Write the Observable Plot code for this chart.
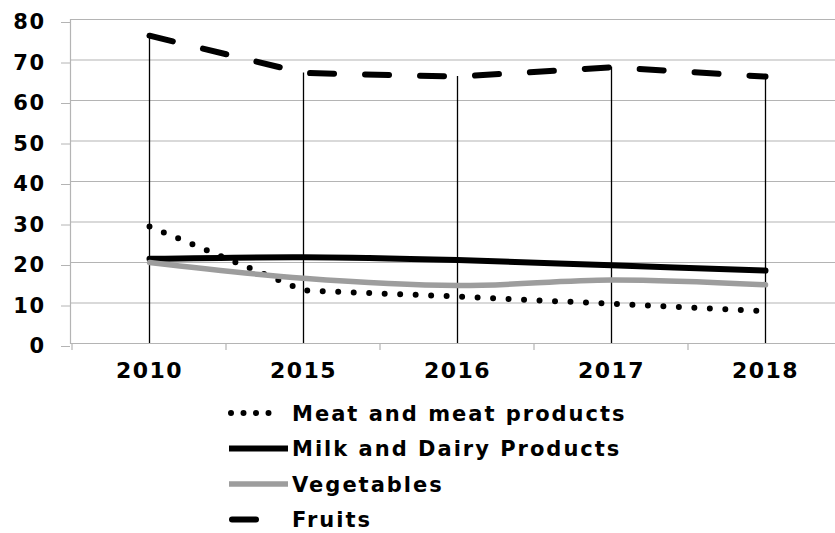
<!DOCTYPE html>
<html><head><meta charset="utf-8">
<script src="https://cdn.jsdelivr.net/npm/d3@7"></script>
<script src="https://cdn.jsdelivr.net/npm/@observablehq/plot@0.6"></script>
<style>
html,body{margin:0;padding:0;background:#fff;overflow:hidden;}
#chart svg{display:block;}
#chart text{letter-spacing:1.5px;}
</style></head><body><div id="chart"></div>
<script>
const years = ["2010", "2015", "2016", "2017", "2018"];
const meat = [28.9, 13.1, 11.6, 9.8, 8.0];
const milk = [20.9, 21.3, 20.6, 19.3, 18.0];
const vegetables = [20.0, 16.1, 14.3, 15.7, 14.5];
const fruits = [76.0, 66.8, 65.9, 68.2, 65.9];
const seriesNames = ["Meat and meat products", "Milk and Dairy Products", "Vegetables", "Fruits"];
const yTicks = [0, 10, 20, 30, 40, 50, 60, 70, 80];

const FONT = "'DejaVu Sans', sans-serif";
const GRID = "#b4b4b4";
const seriesValues = [meat, milk, vegetables, fruits];
const styles = [
  {stroke: "#000", strokeWidth: 6, strokeDasharray: "0,15.5", curve: "linear", lx1: 231, lx2: 281},
  {stroke: "#000", strokeWidth: 6, strokeDasharray: null, curve: "catmull-rom", lx1: 229, lx2: 288},
  {stroke: "#9d9d9d", strokeWidth: 5.5, strokeDasharray: null, curve: "catmull-rom", lx1: 229, lx2: 288},
  {stroke: "#000", strokeWidth: 6, strokeDasharray: "24,31", curve: "linear", lx1: 232, lx2: 256}
];
const rows = seriesNames.map((name, s) => years.map((y, i) => ({year: y, value: seriesValues[s][i], series: name})));

const boundaryTicks = (index, scales) => {
  const g = d3.create("svg:g").attr("stroke", GRID).attr("stroke-width", 1.2);
  const y0 = scales.y(0);
  for (const d of years) {
    const xx = scales.x(d);
    g.append("line").attr("x1", xx).attr("x2", xx).attr("y1", y0).attr("y2", y0 + 7);
  }
  return g.node();
};

const lineMarks = rows.map((data, s) => Plot.line(data, {
  x: "year", y: "value",
  stroke: styles[s].stroke, strokeWidth: styles[s].strokeWidth,
  strokeDasharray: styles[s].strokeDasharray || undefined,
  strokeLinecap: "round", strokeLinejoin: "round",
  curve: styles[s].curve
}));

const plot = Plot.plot({
  width: 835, height: 395,
  marginLeft: 70, marginRight: 0, marginTop: 19, marginBottom: 52,
  style: {fontFamily: FONT, color: "#000", background: "#fff", overflow: "visible"},
  x: {type: "band", domain: years, range: [70, 843], padding: 0, label: null},
  y: {domain: [0, 80], label: null},
  marks: [
    Plot.ruleY(yTicks, {stroke: GRID, strokeWidth: 1.2}),
    Plot.frame({anchor: "left", stroke: GRID, strokeWidth: 1.2}),
    boundaryTicks,
    Plot.ruleX(rows[3], {x: "year", y1: 0, y2: "value", stroke: "#000", strokeWidth: 1.3}),
    ...lineMarks,
    Plot.axisY(yTicks, {tickSize: 9, tickPadding: 16, stroke: GRID, fill: "#000", fontSize: 21, fontWeight: "bold", dy: 3, tickFormat: d => String(d)}),
    Plot.axisX({tickSize: 0, tickPadding: 19, fill: "#000", fontSize: 22, fontWeight: "bold"})
  ]
});
document.getElementById("chart").appendChild(plot);

const legend = d3.create("svg").attr("width", 835).attr("height", 138)
  .style("display", "block").style("font-family", FONT);
seriesNames.forEach((name, i) => {
  const cy = 18 + i * 35.5;
  const st = styles[i];
  const ln = legend.append("line")
    .attr("x1", st.lx1).attr("x2", st.lx2).attr("y1", cy).attr("y2", cy)
    .attr("stroke", st.stroke).attr("stroke-width", st.strokeWidth)
    .attr("stroke-linecap", "round");
  if (i === 0) ln.attr("stroke-dasharray", "0,12.5");
  if (i !== 0 && i !== 3) ln.attr("stroke-linecap", "butt");
  legend.append("text").attr("x", 292).attr("y", cy).attr("dy", "0.36em")
    .attr("font-size", 21).attr("font-weight", "bold").attr("fill", "#000")
    .style("letter-spacing", "2px").text(name);
});
document.getElementById("chart").appendChild(legend.node());
</script></body></html>
